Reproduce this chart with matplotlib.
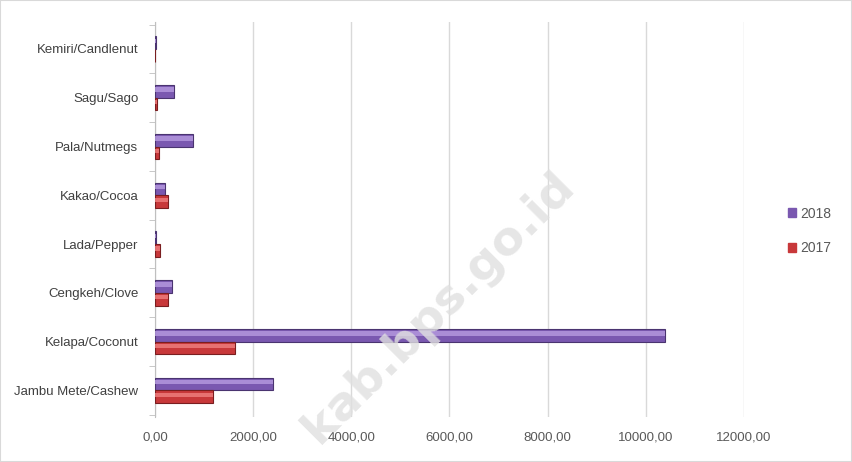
import numpy as np
import matplotlib.pyplot as plt
from matplotlib.patches import Rectangle

# data
categories = ["Jambu Mete/Cashew", "Kelapa/Coconut", "Cengkeh/Clove", "Lada/Pepper",
              "Kakao/Cocoa", "Pala/Nutmegs", "Sagu/Sago", "Kemiri/Candlenut"]
val_2017 = [1180, 1630, 265, 100, 265, 90, 40, 5]
val_2018 = [2410, 10400, 345, 15, 200, 775, 385, 25]
xticks = [0, 2000, 4000, 6000, 8000, 10000, 12000]

plt.rcParams['font.family'] = ['Liberation Sans', 'DejaVu Sans']

fig = plt.figure(figsize=(8.52, 4.62), dpi=100)
ax = fig.add_axes([0.182, 0.097, 0.691, 0.855])

y = np.arange(len(categories))
h = 0.26
c18, c18_light, c18_edge = "#7a58b0", "#b79be0", "#4a3470"
c17, c17_light, c17_edge = "#c8383a", "#f08080", "#7a1e20"

ax.barh(y + h / 2, val_2018, height=h, color=c18, edgecolor=c18_edge, linewidth=0.8, label="2018", zorder=3)
ax.barh(y - h / 2, val_2017, height=h, color=c17, edgecolor=c17_edge, linewidth=0.8, label="2017", zorder=3)
# bevel highlight
ax.barh(y + h / 2 + h * 0.15, val_2018, height=h * 0.35, color=c18_light, linewidth=0, zorder=4, alpha=0.8)
ax.barh(y - h / 2 + h * 0.15, val_2017, height=h * 0.35, color=c17_light, linewidth=0, zorder=4, alpha=0.8)

ax.set_xlim(0, 12000)
ax.set_ylim(-0.55, len(categories) - 0.45)
ax.set_xticks(xticks)
ax.set_xticklabels([f"{v},00" for v in xticks], color="#595959", fontsize=9.5)
ax.set_yticks(y)
ax.set_yticklabels(categories, color="#404040", fontsize=9.5)
ax.set_yticks(np.arange(len(categories) + 1) - 0.5, minor=True)
ax.tick_params(axis='y', which='major', length=0, pad=12)
ax.tick_params(axis='y', which='minor', length=4, color="#bfbfbf")
ax.tick_params(axis='x', length=0, pad=10)
ax.grid(axis='x', color="#d9d9d9", linewidth=1, zorder=0)
for s in ["top", "right", "bottom"]:
    ax.spines[s].set_visible(False)
ax.spines["left"].set_color("#bfbfbf")

handles = [Rectangle((0, 0), 1, 1, color=c18), Rectangle((0, 0), 1, 1, color=c17)]
fig.legend(handles, ["2018", "2017"], loc="center left", bbox_to_anchor=(0.925, 0.50),
           frameon=False, fontsize=10, handlelength=0.6, handleheight=0.6,
           handletextpad=0.3, labelspacing=1.5, labelcolor="#595959",
           borderaxespad=0, borderpad=0)

# watermark
fig.text(0.515, 0.335, "kab.bps.go.id", fontsize=34, fontweight="bold", color="#e0e0e0",
         alpha=0.8, rotation=45, ha="center", va="center", family=["DejaVu Sans"], zorder=10)

fig.patches.append(Rectangle((0, 0), 1, 1, transform=fig.transFigure, fill=False,
                             edgecolor="#d9d9d9", linewidth=1.5))

fig.savefig("out.png", dpi=100)
